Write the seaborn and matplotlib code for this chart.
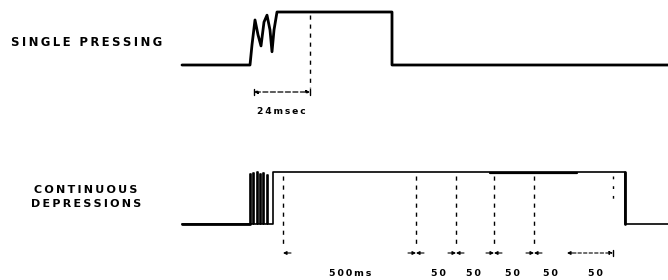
import matplotlib
matplotlib.use("Agg")
import matplotlib.pyplot as plt
import seaborn as sns
import pandas as pd

# ---- data (time in diagram units, level 0 = released, 1 = pressed) ----
single_t = [182, 250, 252, 255, 258, 261, 264, 267, 270, 272, 274, 277, 392, 392, 668]
single_lv = [0, 0, 0.38, 0.85, 0.57, 0.36, 0.81, 0.94, 0.66, 0.25, 0.66, 1, 1, 0, 0]
single_marks = [310]
single_span = [254, 310]
single_span_label = "24msec"

cont_t = [182, 250, 250, 251.2, 251.2, 253, 253, 254.2, 254.2, 257, 257, 258.2, 258.2,
          260, 260, 261.2, 261.2, 263, 263, 264.2, 264.2, 267, 267, 268.2, 268.2,
          273, 273, 625, 625, 668]
cont_lv = [0, 0, 0.96, 0.96, 0, 0, 0.98, 0.98, 0, 0, 1, 1, 0,
           0, 0.97, 0.97, 0, 0, 0.99, 0.99, 0, 0, 0.95, 0.95, 0,
           0, 1, 1, 0, 0]
cont_marks = [283, 416, 456, 494, 534]
cont_last_mark = 613
cont_labels = ["500ms", "50", "50", "50", "50", "50"]
cont_label_t = [350, 438, 473, 512, 550, 595]

row_labels = ["SINGLE PRESSING", "CONTINUOUS\nDEPRESSIONS"]

# ---- layout ----
W, H = 668, 280
top_base, top_high = 65, 12
bot_base, bot_high = 224, 172

sns.set_theme(style="white")
plt.rcParams['font.family'] = ['DejaVu Sans']

fig = plt.figure(figsize=(W / 100, H / 100), dpi=100)
ax = fig.add_axes([0, 0, 1, 1])
ax.set_xlim(0, W)
ax.set_ylim(H, 0)
ax.axis("off")


def spaced(s):
    return "\n".join("\u2009".join(line) for line in s.split("\n"))


df_top = pd.DataFrame({"t": single_t,
                       "y": [top_base - v * (top_base - top_high) for v in single_lv]})
df_bot = pd.DataFrame({"t": cont_t,
                       "y": [bot_base - v * (bot_base - bot_high) for v in cont_lv]})

sns.lineplot(data=df_top, x="t", y="y", sort=False, estimator=None,
             color="black", lw=2.0, ax=ax)
sns.lineplot(data=df_bot, x="t", y="y", sort=False, estimator=None,
             color="black", lw=1.2, ax=ax)
# thicker stretch of the bottom high level (scan artefact)
ax.plot([490, 577], [bot_high + 0.6, bot_high + 0.6], color="black", lw=1.6)
ax.plot([cont_t[-2]] * 2, [bot_high, bot_base], color="black", lw=2.0)
ax.plot([cont_t[0], cont_t[1]], [bot_base, bot_base], color="black", lw=2.0)

# dashed marker lines
dash = (0, (3, 3.5))
for m in single_marks:
    ax.plot([m, m], [top_high + 3, 88], color="black", lw=1.0, linestyle=dash)
for m in cont_marks:
    ax.plot([m, m], [bot_high + 4, 247], color="black", lw=1.0, linestyle=dash)
ax.plot([cont_last_mark] * 2, [bot_high + 4, 200], color="black", lw=1.0,
        linestyle=(0, (2, 5)))

# dimension arrows
ap = dict(arrowstyle="-|>", color="black", lw=0.8, mutation_scale=5,
          shrinkA=0, shrinkB=0)
yarr = 253
for i, m in enumerate(cont_marks):
    ax.annotate("", xy=(m, yarr), xytext=(m + 8, yarr), arrowprops=ap)
    if i > 0:
        ax.annotate("", xy=(m, yarr), xytext=(m - 8, yarr), arrowprops=ap)
ax.plot([cont_last_mark, cont_last_mark], [yarr - 3, yarr + 3], color="black", lw=1)
ax.annotate("", xy=(cont_last_mark, yarr), xytext=(578, yarr),
            arrowprops=dict(ap, linestyle=(0, (3, 2))))
ax.annotate("", xy=(567, yarr), xytext=(576, yarr), arrowprops=ap)

ax.annotate("", xy=(single_span[1], 92), xytext=(single_span[0], 92),
            arrowprops=dict(arrowstyle="<|-|>", color="black", lw=0.9,
                            mutation_scale=5, shrinkA=0, shrinkB=0,
                            linestyle=(0, (4, 2))))
ax.plot([single_span[0]] * 2, [89, 95], color="black", lw=1)
ax.plot([single_span[1]] * 2, [89, 95], color="black", lw=1)

# texts
ax.text(87, 42, spaced(row_labels[0]), ha="center", va="center",
        fontsize=8.4, fontweight="bold", color="black")
ax.text(86, 197, spaced(row_labels[1]), ha="center", va="center",
        fontsize=8.0, fontweight="bold", color="black", linespacing=1.6,
        multialignment="center")
ax.text(281, 111, spaced(single_span_label), ha="center", va="center",
        fontsize=6.6, fontweight="bold", color="black")
for lab, t in zip(cont_labels, cont_label_t):
    ax.text(t, 273, spaced(lab), ha="center", va="center",
            fontsize=6.8, fontweight="bold", color="black")

fig.savefig("out.png", dpi=100, facecolor="white")
